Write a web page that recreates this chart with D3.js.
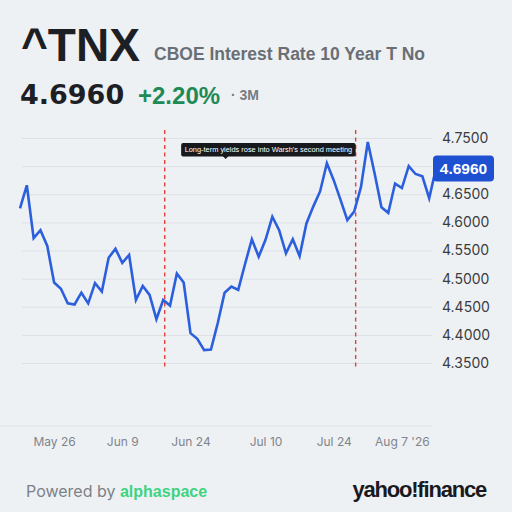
<!DOCTYPE html>
<html>
<head>
<meta charset="utf-8">
<script src="https://cdn.jsdelivr.net/npm/d3@7"></script>
<style>
  html, body { margin: 0; padding: 0; background: #eef1f4; }
  svg { display: block; font-family: Inter, "Liberation Sans", sans-serif; }
  .bold { font-family: "Liberation Sans", Arial, sans-serif; font-weight: 700; }
</style>
</head>
<body>
<svg id="chart"></svg>
<script>
// 10y yield, daily closes (trading days)
var dates = [
  "2026-05-18","2026-05-19","2026-05-20","2026-05-21","2026-05-22",
  "2026-05-26","2026-05-27","2026-05-28","2026-05-29",
  "2026-06-01","2026-06-02","2026-06-03","2026-06-04","2026-06-05",
  "2026-06-08","2026-06-09","2026-06-10","2026-06-11","2026-06-12",
  "2026-06-15","2026-06-16","2026-06-17","2026-06-18",
  "2026-06-22","2026-06-23","2026-06-24","2026-06-25","2026-06-26",
  "2026-06-29","2026-06-30","2026-07-01","2026-07-02",
  "2026-07-06","2026-07-07","2026-07-08","2026-07-09","2026-07-10",
  "2026-07-13","2026-07-14","2026-07-15","2026-07-16","2026-07-17",
  "2026-07-20","2026-07-21","2026-07-22","2026-07-23","2026-07-24",
  "2026-07-27","2026-07-28","2026-07-29","2026-07-30","2026-07-31",
  "2026-08-03","2026-08-04","2026-08-05","2026-08-06","2026-08-07",
  "2026-08-10","2026-08-11","2026-08-12","2026-08-13","2026-08-14"
];
var yields = [
  4.625, 4.666, 4.572, 4.586, 4.558,
  4.493, 4.482, 4.456, 4.454,
  4.475, 4.456, 4.492, 4.477, 4.537,
  4.553, 4.528, 4.542, 4.462, 4.487,
  4.471, 4.428, 4.462, 4.452,
  4.509, 4.493, 4.403, 4.393, 4.373,
  4.374, 4.421, 4.475, 4.486,
  4.480, 4.526, 4.570, 4.539, 4.569,
  4.610, 4.586, 4.545, 4.570, 4.540,
  4.598, 4.628, 4.655, 4.705, 4.675,
  4.640, 4.604, 4.619, 4.663, 4.743,
  4.687, 4.627, 4.617, 4.669, 4.661,
  4.700, 4.686, 4.682, 4.643, 4.696
];
var yTicks = [4.35, 4.40, 4.45, 4.50, 4.55, 4.60, 4.65, 4.70, 4.75];
var xTickDates = ["2026-05-26","2026-06-09","2026-06-24","2026-07-10","2026-07-24","2026-08-07"];
var xTickLabels = ["May 26","Jun 9","Jun 24","Jul 10","Jul 24","Aug 7 '26"];
var meetings = ["2026-06-17","2026-07-29"];
var note = "Long-term yields rose into Warsh's second meeting";
var lastPrice = "4.6960";
var change = "+2.20%";

var width = 512, height = 512;
var svg = d3.select("#chart").attr("width", width).attr("height", height);

svg.append("rect").attr("width", width).attr("height", height).attr("fill", "#eef1f4");

// header
svg.append("text").attr("class", "bold").attr("x", 21).attr("y", 61)
  .attr("font-size", 46).attr("fill", "#1d1f24")
  .text("^TNX");
svg.append("text").attr("class", "bold").attr("x", 154).attr("y", 60)
  .attr("font-size", 17.5).attr("fill", "#6a6e75")
  .text("CBOE Interest Rate 10 Year T No");
svg.append("text").attr("x", 20).attr("y", 104)
  .attr("font-family", "'DejaVu Sans', sans-serif")
  .attr("font-size", 27).attr("font-weight", 700).attr("fill", "#1d1f24")
  .text(lastPrice);
svg.append("text").attr("class", "bold").attr("x", 138).attr("y", 104)
  .attr("font-size", 24).attr("fill", "#1f8a55")
  .text(change);
svg.append("text").attr("class", "bold").attr("x", 231).attr("y", 100)
  .attr("font-size", 14).attr("fill", "#777b82")
  .text("· 3M");

// scales
var x = d3.scalePoint().domain(dates).range([20, 436]);
var y = d3.scaleLinear().domain([4.35, 4.75]).range([363, 138]);

// grid + right axis
var yAxis = svg.append("g")
  .attr("transform", "translate(432,0)")
  .call(d3.axisRight(y).tickValues(yTicks).tickSize(-410).tickPadding(10)
    .tickFormat(d3.format(".4f")));
yAxis.select(".domain").remove();
yAxis.selectAll(".tick line").attr("stroke", "#dde1e6").attr("stroke-width", 1);
yAxis.selectAll(".tick text").attr("fill", "#3a3c40").attr("font-size", 14)
  .attr("font-family", "Inter, sans-serif");
// the 4.70 label sits under the last-price badge
yAxis.selectAll(".tick text").filter(function(d) { return Math.abs(d - 4.70) < 1e-9; }).remove();

// bottom axis
var xAxis = svg.append("g")
  .attr("transform", "translate(0,426)")
  .call(d3.axisBottom(x).tickValues(xTickDates).tickSize(0).tickPadding(11)
    .tickFormat(function(d) { return xTickLabels[xTickDates.indexOf(d)]; }));
xAxis.select(".domain").attr("d", "M0,0H432").attr("stroke", "#dde1e6");
xAxis.selectAll(".tick text").attr("fill", "#80848b").attr("font-size", 12)
  .attr("font-family", "Inter, sans-serif");

// meeting markers
svg.selectAll(".meet")
  .data(meetings)
 .enter().append("line")
  .attr("x1", function(d) { return x(d) + 1.5; })
  .attr("x2", function(d) { return x(d) + 1.5; })
  .attr("y1", 130).attr("y2", 368)
  .attr("stroke", "#e0443e").attr("stroke-width", 1.4)
  .attr("stroke-dasharray", "4,3.5");

// price line
var line = d3.line()
  .x(function(d, i) { return x(dates[i]); })
  .y(function(d) { return y(d); });
svg.append("path")
  .datum(yields)
  .attr("d", line)
  .attr("fill", "none")
  .attr("stroke", "#2c5fdc")
  .attr("stroke-width", 2.6)
  .attr("stroke-linejoin", "miter");

// annotation, right edge on the second meeting line
var ann = svg.append("g");
var annText = ann.append("text")
  .attr("x", x(meetings[1]) - 2).attr("y", 152.3)
  .attr("text-anchor", "end")
  .attr("font-family", "'Liberation Sans', Arial, sans-serif")
  .attr("font-size", 7.4).attr("fill", "#ffffff")
  .text(note);
var bb = annText.node().getBBox();
ann.insert("rect", "text")
  .attr("x", bb.x - 3.5).attr("y", 143).attr("width", bb.width + 7).attr("height", 13.5)
  .attr("rx", 2).attr("fill", "#18191c");
ann.insert("path", "text")
  .attr("d", "M" + (bb.x + 38) + ",156l3,3l3,-3z")
  .attr("fill", "#18191c");

// last price badge
var badge = svg.append("g");
badge.append("rect")
  .attr("x", 433).attr("y", y(yields[yields.length - 1]) - 13)
  .attr("width", 61).attr("height", 26).attr("rx", 4).attr("fill", "#1e50d2");
badge.append("text").attr("class", "bold")
  .attr("x", 463.5).attr("y", y(yields[yields.length - 1]) + 5.5)
  .attr("text-anchor", "middle")
  .attr("font-size", 15.5).attr("fill", "#ffffff")
  .text(lastPrice);

// footer
var foot = svg.append("text").attr("x", 26).attr("y", 497).attr("font-size", 16);
foot.append("tspan").attr("fill", "#7c8087").text("Powered by ");
foot.append("tspan").attr("class", "bold").attr("fill", "#3fd382").text("alphaspace");
svg.append("text").attr("class", "bold").attr("x", 486).attr("y", 497)
  .attr("text-anchor", "end")
  .attr("font-size", 22).attr("fill", "#1a1a1e")
  .attr("letter-spacing", -1.2)
  .text("yahoo!finance");
</script>
</body>
</html>
